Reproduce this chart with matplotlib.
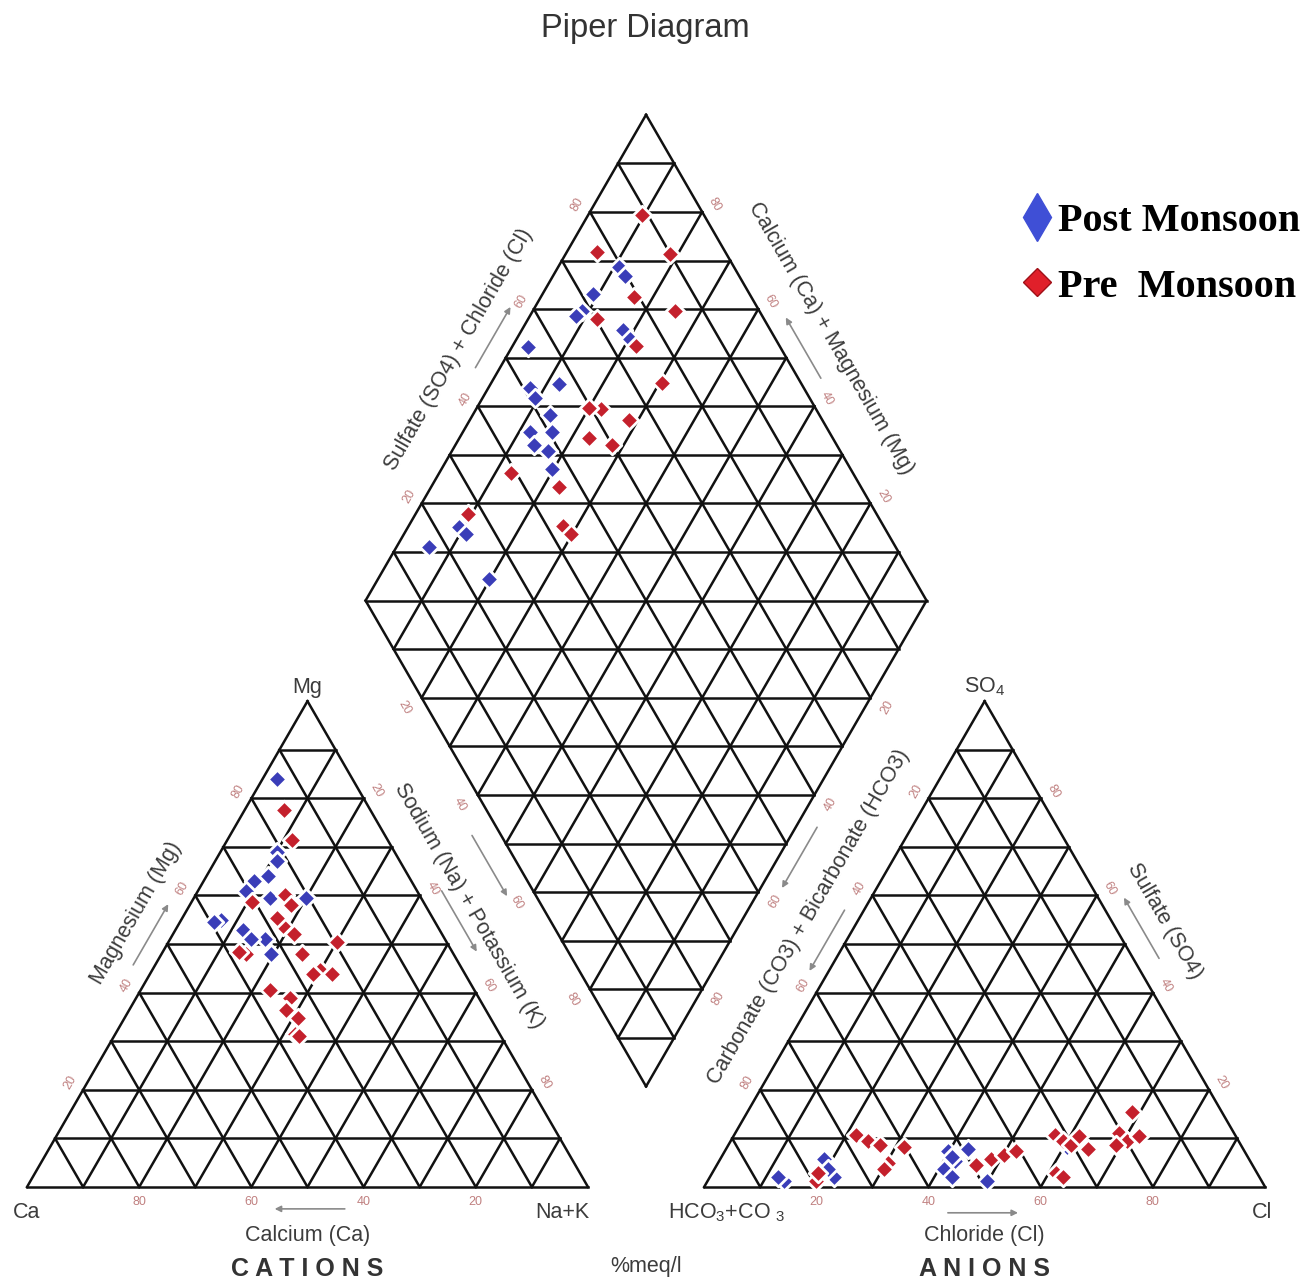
import numpy as np
import matplotlib.pyplot as plt
from matplotlib.lines import Line2D

plt.rcParams['font.family'] = ['Liberation Sans', 'DejaVu Sans']
plt.rcParams['mathtext.fontset'] = 'custom'
plt.rcParams['mathtext.rm'] = 'Liberation Sans'
plt.rcParams['mathtext.default'] = 'regular'

# ---- data (% meq/l) ----
# cation triangle: Mg and Na+K, Ca = rest
post_cat_mg = [84, 69, 64, 63, 61, 59.5, 59.5, 55, 54.5, 53, 51, 48, 51, 67]
post_cat_nak = [2.5, 10, 11, 9, 8.5, 13.5, 20, 7, 6, 12, 17, 19.5, 14.5, 11]
pre_cat_mg = [77.7, 71.5, 60, 58.7, 58, 53.7, 52, 50.4, 48, 48, 44.6, 43.8, 43.8,
              40.5, 38.8, 36.4, 34.7, 31.4, 31, 55.4, 48.3]
pre_cat_nak = [7, 11.5, 16, 10.8, 18, 18.7, 21.6, 30, 15, 25, 30, 32.5, 29,
               23, 27.5, 28, 31, 32, 33, 16.9, 13.6]

# anion triangle: SO4 and Cl, HCO3+CO3 = rest
post_an_so4 = [1.2, 2.1, 5.8, 2.1, 3.7, 7.5, 5.4, 3.7, 2.1, 7.9, 1.2, 8.3, 6.2]
post_an_cl = [13.6, 12.1, 18.4, 22.1, 20.2, 39.7, 42.1, 40.9, 43.1, 43.0, 49.9, 60.5, 41.0]
pre_an_so4 = [10.8, 9.5, 8.7, 5.0, 3.7, 8.3, 1.2, 2.9, 4.6, 5.8, 6.6, 7.5,
              10.8, 9.5, 8.7, 10.4, 7.9, 2.9, 2.1, 11.2, 9.5, 15.4, 10.4, 8.7]
pre_an_cl = [21.6, 24.4, 27.0, 30.2, 30.2, 31.4, 19.3, 18.8, 46.1, 48.3, 50.1, 51.8,
             57.2, 59.3, 61.1, 61.7, 64.4, 61.2, 63.0, 68.4, 70.7, 68.5, 72.4, 69.0]

# diamond: Na+K and SO4+Cl
post_dia_nak = [10.9, 12.8, 9.0, 8.7, 8.3, 18.1, 20.3, 2.9, 12.3, 7.4, 9.4, 13.8,
                11.9, 15.9, 13.9, 17.2, 19.7, 9.0, 11.1, 5.8, 19.7]
post_dia_sc = [79.5, 79.7, 72.1, 68.4, 66.9, 73.7, 74.1, 55.0, 56.8, 51.2, 51.1, 52.0,
               46.7, 50.6, 46.0, 47.9, 46.8, 24.2, 24.8, 16.8, 24.2]
pre_dia_nak = [9.6, 5.3, 18.5, 25.4, 16.7, 12.3, 22.0, 30.5, 22.2, 28.3, 23.2, 27.9,
               12.8, 22.9, 9.3, 27.6, 29.7, 20.0]
pre_dia_sc = [88.9, 77.1, 89.9, 85.0, 79.1, 70.2, 74.4, 75.3, 61.6, 65.5, 56.6, 59.9,
              39.0, 46.2, 27.2, 42.9, 43.5, 59.7]

ticks = [20, 40, 60, 80]
series = ['Post Monsoon', 'Pre  Monsoon']

blue = '#3a3db8'
red = '#c4202c'

# ---- geometry: triangle side = 1 ----
h = np.sqrt(3) / 2
gap = 0.207
ox = 1 + gap                       # anion triangle x offset
bx, by = 1 + gap / 2, gap * h      # diamond bottom vertex
lx, ly = bx - 0.5, by + h          # diamond left vertex


def cat_xy(mg, nak):
    mg = np.asarray(mg) / 100
    nak = np.asarray(nak) / 100
    return nak + 0.5 * mg, h * mg


def an_xy(so4, cl):
    so4 = np.asarray(so4) / 100
    cl = np.asarray(cl) / 100
    return ox + cl + 0.5 * so4, h * so4


def dia_xy(nak, sc):
    p = np.asarray(nak) / 100
    q = np.asarray(sc) / 100
    return lx + 0.5 * (p + q), ly + h * (q - p)


fig = plt.figure(figsize=(13.14, 12.86), dpi=100)
ax = fig.add_axes([0, 0, 1, 1])
ax.set_xlim(-27 / 561, (1314 - 27) / 561)
ax.set_ylim(-(1286 - 1187) / 561, 1187 / 561)
ax.axis('off')

lw = 1.8
gc = '#111111'

# triangle grids
for x0 in [0, ox]:
    for i in range(10):
        f = i / 10
        ax.plot([x0 + 0.5 * f, x0 + 1 - 0.5 * f], [h * f, h * f], color=gc, lw=lw, zorder=1)
        ax.plot([x0 + f, x0 + 0.5 + 0.5 * f], [0, h * (1 - f)], color=gc, lw=lw, zorder=1)
        ax.plot([x0 + 1 - f, x0 + 0.5 - 0.5 * f], [0, h * (1 - f)], color=gc, lw=lw, zorder=1)

# diamond grid
for i in range(11):
    f = i * 10
    x, y = dia_xy([f, f], [0, 100])
    ax.plot(x, y, color=gc, lw=lw, zorder=1)
    x, y = dia_xy([0, 100], [f, f])
    ax.plot(x, y, color=gc, lw=lw, zorder=1)
for k in range(-9, 10):
    d = k * 10
    if d >= 0:
        x, y = dia_xy([0, 100 - d], [d, 100])
    else:
        x, y = dia_xy([-d, 100], [0, 100 + d])
    ax.plot(x, y, color=gc, lw=lw, zorder=1)

# points
mk = dict(marker='D', s=90, edgecolors='white', linewidths=2.0, zorder=3)
x, y = cat_xy(post_cat_mg, post_cat_nak)
ax.scatter(x, y, color=blue, **mk)
x, y = cat_xy(pre_cat_mg, pre_cat_nak)
ax.scatter(x, y, color=red, **mk)
x, y = an_xy(post_an_so4, post_an_cl)
ax.scatter(x, y, color=blue, **mk)
x, y = an_xy(pre_an_so4, pre_an_cl)
ax.scatter(x, y, color=red, **mk)
x, y = dia_xy(post_dia_nak, post_dia_sc)
ax.scatter(x, y, color=blue, **mk)
x, y = dia_xy(pre_dia_nak, pre_dia_sc)
ax.scatter(x, y, color=red, **mk)

# tick labels
tc = '#c08080'
tf = 9
off = 0.026
nl = np.array([-h, 0.5])
nr = np.array([h, 0.5])
for v in ticks:
    # cations
    ax.text((100 - v) / 100, -0.026, str(v), color=tc, fontsize=tf, ha='center', va='center')
    px, py = cat_xy(v, 0)
    ax.text(px + nl[0] * off, py + nl[1] * off, str(v), color=tc, fontsize=tf,
            rotation=60, ha='center', va='center')
    px, py = cat_xy(100 - v, v)
    ax.text(px + nr[0] * off, py + nr[1] * off, str(v), color=tc, fontsize=tf,
            rotation=-60, ha='center', va='center')
    # anions
    px, py = an_xy(0, v)
    ax.text(px, -0.026, str(v), color=tc, fontsize=tf, ha='center', va='center')
    px, py = an_xy(100 - v, 0)
    ax.text(px + nl[0] * off, py + nl[1] * off, str(v), color=tc, fontsize=tf,
            rotation=60, ha='center', va='center')
    px, py = an_xy(v, 100 - v)
    ax.text(px + nr[0] * off, py + nr[1] * off, str(v), color=tc, fontsize=tf,
            rotation=-60, ha='center', va='center')
    # diamond
    px, py = dia_xy(0, v)
    ax.text(px + nl[0] * off, py + nl[1] * off, str(v), color=tc, fontsize=tf,
            rotation=60, ha='center', va='center')
    px, py = dia_xy(100 - v, 100)
    ax.text(px + nr[0] * off, py + nr[1] * off, str(v), color=tc, fontsize=tf,
            rotation=-60, ha='center', va='center')
    px, py = dia_xy(v, 0)
    ax.text(px - nr[0] * 0.036, py - nr[1] * 0.036, str(v), color=tc, fontsize=tf,
            rotation=-60, ha='center', va='center')
    px, py = dia_xy(100, 100 - v)
    ax.text(px - nl[0] * 0.034, py - nl[1] * 0.034, str(v), color=tc, fontsize=tf,
            rotation=60, ha='center', va='center')

lc = '#3c3c3c'
lf = 15.5


def edge_text(p0, p1, t, n, d, s, rot):
    x = p0[0] + t * (p1[0] - p0[0]) + n[0] * d
    y = p0[1] + t * (p1[1] - p0[1]) + n[1] * d
    ax.text(x, y, s, color=lc, fontsize=lf, rotation=rot, ha='center', va='center',
            rotation_mode='anchor')


def edge_arrow(p0, p1, t, n, d, length=0.125):
    ux, uy = p1[0] - p0[0], p1[1] - p0[1]
    norm = np.hypot(ux, uy)
    ux, uy = ux / norm, uy / norm
    cx = p0[0] + t * (p1[0] - p0[0]) + n[0] * d
    cy = p0[1] + t * (p1[1] - p0[1]) + n[1] * d
    ax.annotate('', xy=(cx + ux * length / 2, cy + uy * length / 2),
                xytext=(cx - ux * length / 2, cy - uy * length / 2),
                arrowprops=dict(arrowstyle='-|>', color='#8a8a8a', lw=1.2,
                                mutation_scale=9, shrinkA=0, shrinkB=0))


Ca, NaK, Mg = (0, 0), (1, 0), (0.5, h)
HC, Cl, SO = (ox, 0), (ox + 1, 0), (ox + 0.5, h)
DL, DB, DR, DT = (lx, ly), (bx, by), (lx + 1, ly), (bx, by + 2 * h)

edge_text(Ca, Mg, 0.52, nl, 0.075, 'Magnesium (Mg)', 60)
edge_arrow(Ca, Mg, 0.5, nl, 0.034)
edge_text(Mg, NaK, 0.46, nr, 0.066, 'Sodium (Na) + Potassium (K)', -60)
edge_arrow(Mg, NaK, 0.475, nr, 0.038)
ax.text(0.5, -0.086, 'Calcium (Ca)', color=lc, fontsize=lf, ha='center', va='center')
edge_arrow(NaK, Ca, 0.496, (0, -1), 0.039)

edge_text(DL, DT, 0.47, nl, 0.08, 'Sulfate (SO4) + Chloride (Cl)', 60)
edge_arrow(DL, DT, 0.52, nl, 0.038)
edge_text(DT, DR, 0.51, nr, 0.085, 'Calcium (Ca) + Magnesium (Mg)', -60)
edge_arrow(DR, DT, 0.5, nr, 0.035)
edge_arrow(DL, DB, 0.52, -nr, 0.045)
edge_arrow(DR, DB, 0.51, -nl, 0.033)

edge_text(HC, SO, 0.51, nl, 0.08, 'Carbonate (CO3) + Bicarbonate (HCO3)', 60)
edge_arrow(SO, HC, 0.51, nl, 0.03)
edge_text(SO, Cl, 0.5, nr, 0.082, 'Sulfate (SO4)', -60)
edge_arrow(Cl, SO, 0.51, nr, 0.04)
ax.text(ox + 0.5, -0.086, 'Chloride (Cl)', color=lc, fontsize=lf, ha='center', va='center')
edge_arrow(HC, Cl, 0.497, (0, -1), 0.046)

# vertex labels
ax.text(0.5, h + 0.025, 'Mg', color=lc, fontsize=lf, ha='center', va='center')
ax.text(0, -0.045, 'Ca', color=lc, fontsize=lf, ha='center', va='center')
ax.text(1 - 0.045, -0.045, 'Na+K', color=lc, fontsize=lf, ha='center', va='center')
ax.text(ox + 0.04, -0.045, 'HCO$_3$+CO $_3$', color=lc, fontsize=lf, ha='center', va='center')
ax.text(ox + 0.995, -0.045, 'Cl', color=lc, fontsize=lf, ha='center', va='center')
ax.text(ox + 0.5, h + 0.025, 'SO$_4$', color=lc, fontsize=lf, ha='center', va='center')

ax.text(0.5, -0.146, 'C A T I O N S', color='#333333', fontsize=18, fontweight='bold',
        ha='center', va='center')
ax.text(ox + 0.5, -0.146, 'A N I O N S', color='#333333', fontsize=18, fontweight='bold',
        ha='center', va='center')
ax.text(bx, -0.142, '%meq/l', color=lc, fontsize=lf, ha='center', va='center')

fig.text(645 / 1314, 1 - 28 / 1286, 'Piper Diagram', color='#333333', fontsize=23.5,
         ha='center', va='center')

handles = [Line2D([], [], ls='none', marker='d', ms=24, color='#3f4fd6', mec='#3f4fd6'),
           Line2D([], [], ls='none', marker='D', ms=14, color='#e0202a', mec='#a01018')]
ax.legend(handles, series, loc='upper left', bbox_to_anchor=(1022 / 1314, 1 - 203 / 1286),
          bbox_transform=fig.transFigure, frameon=False, borderpad=0, borderaxespad=0,
          handlelength=0.75, handletextpad=0.15, labelspacing=0.7,
          prop=dict(family='Liberation Serif', weight='bold', size=29))

fig.savefig('out.png', dpi=100)
